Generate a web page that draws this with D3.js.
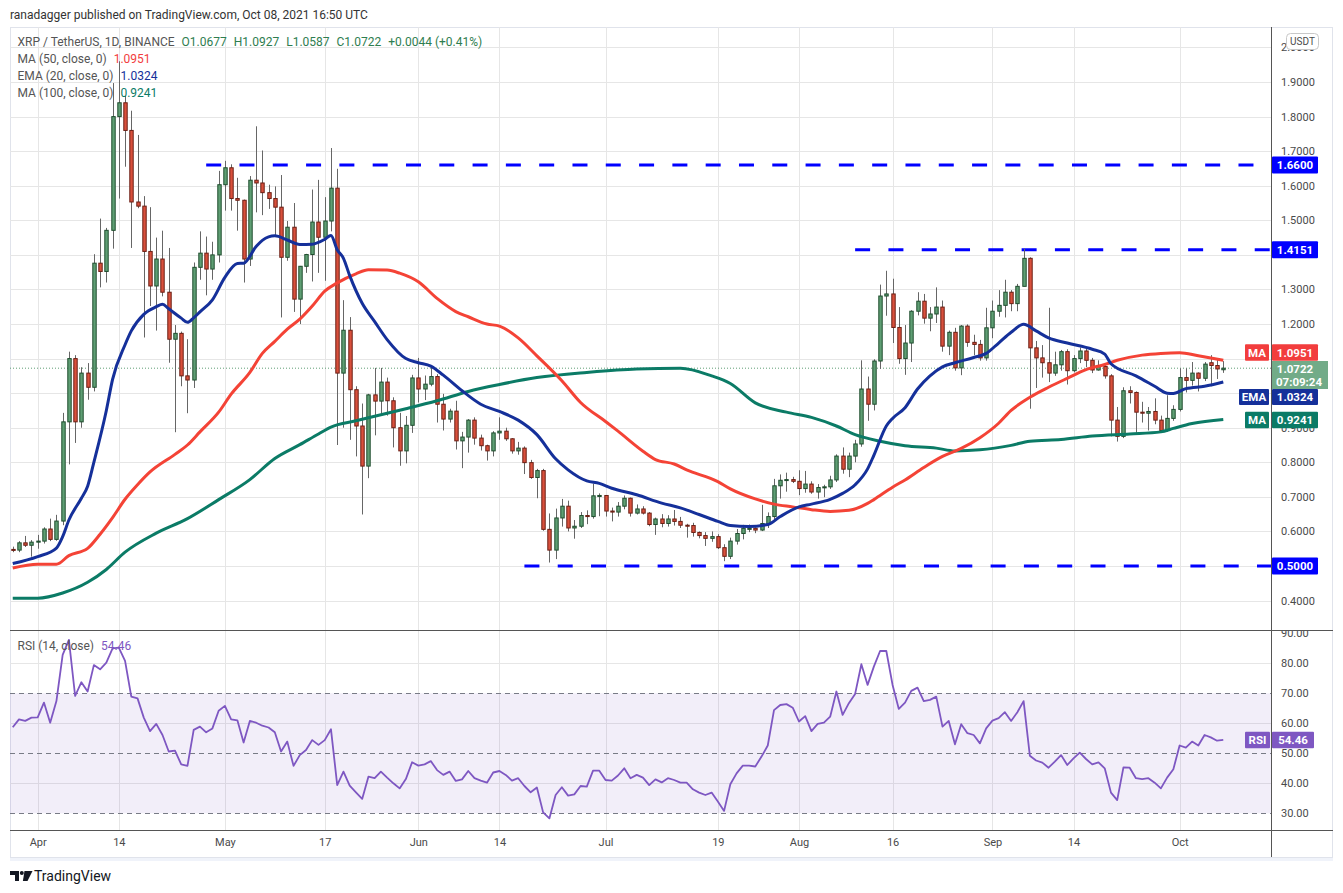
<!DOCTYPE html>
<html>
<head>
<meta charset="utf-8">
<style>
body { margin: 0; background: #fff; }
svg { display: block; font-family: Roboto, "Liberation Sans", sans-serif; }
</style>
</head>
<body>
<svg width="1343" height="893"></svg>
<script src="https://cdnjs.cloudflare.com/ajax/libs/d3/7.8.5/d3.min.js"></script>
<script>

// XRP / USDT daily candles, Mar 28 - Oct 8 2021
var startDay = "03-28";

var opens = [0.548,0.546,0.567,0.560,0.569,0.572,0.607,0.577,0.630,0.917,
1.100,0.917,1.058,1.017,1.376,1.352,1.471,1.800,1.840,1.760,
1.553,1.541,1.410,1.310,1.388,1.292,1.156,1.173,1.050,1.038,
1.364,1.405,1.359,1.400,1.603,1.652,1.563,1.558,1.388,1.616,
1.608,1.580,1.563,1.538,1.393,1.480,1.272,1.367,1.401,1.495,
1.451,1.498,1.593,1.058,1.182,1.010,0.905,0.789,0.995,0.977,
1.032,0.978,0.900,0.833,0.907,1.044,1.012,1.026,1.048,0.968,
0.925,0.948,0.862,0.873,0.922,0.870,0.848,0.833,0.885,0.890,
0.868,0.833,0.841,0.799,0.756,0.776,0.606,0.546,0.639,0.673,
0.610,0.615,0.646,0.643,0.703,0.704,0.659,0.656,0.673,0.696,
0.653,0.665,0.653,0.620,0.636,0.623,0.636,0.629,0.618,0.617,
0.597,0.588,0.580,0.585,0.553,0.528,0.572,0.594,0.606,0.609,
0.604,0.623,0.643,0.732,0.748,0.750,0.745,0.724,0.737,0.714,
0.727,0.729,0.749,0.818,0.780,0.818,0.853,1.012,0.968,1.093,
1.281,1.287,1.190,1.100,1.145,1.237,1.266,1.217,1.229,1.249,
1.136,1.176,1.073,1.194,1.147,1.141,1.102,1.189,1.237,1.254,
1.292,1.259,1.309,1.390,1.131,1.102,1.088,1.058,1.082,1.120,
1.065,1.100,1.122,1.095,1.067,1.077,1.050,0.922,0.875,1.007,
1.002,0.945,0.942,0.947,0.922,0.892,0.927,0.953,1.045,1.037,
1.058,1.043,1.088,1.080,1.0677];

var highs = [0.556,0.572,0.587,0.575,0.590,0.612,0.637,0.648,0.943,1.120,
1.110,1.075,1.087,1.402,1.505,1.478,1.897,1.960,1.860,1.817,
1.747,1.570,1.538,1.450,1.470,1.420,1.197,1.178,1.156,1.378,
1.468,1.453,1.438,1.643,1.672,1.662,1.623,1.560,1.628,1.772,
1.702,1.603,1.598,1.631,1.498,1.550,1.368,1.403,1.589,1.617,
1.567,1.709,1.649,1.269,1.220,1.020,0.970,0.998,1.073,1.073,
1.045,0.988,0.943,0.934,1.053,1.102,1.051,1.080,1.055,0.998,
0.955,0.978,0.888,0.925,0.930,0.880,0.851,0.890,0.930,0.900,
0.870,0.859,0.846,0.807,0.781,0.781,0.652,0.666,0.694,0.689,
0.633,0.656,0.661,0.738,0.710,0.705,0.669,0.685,0.704,0.698,
0.678,0.673,0.656,0.640,0.650,0.647,0.662,0.642,0.622,0.625,
0.600,0.598,0.600,0.592,0.563,0.582,0.607,0.619,0.620,0.612,
0.677,0.655,0.752,0.765,0.770,0.758,0.777,0.775,0.745,0.737,
0.735,0.761,0.823,0.843,0.828,0.865,1.095,1.048,1.098,1.314,
1.354,1.331,1.249,1.197,1.240,1.292,1.287,1.249,1.306,1.268,
1.181,1.189,1.197,1.199,1.169,1.154,1.247,1.268,1.298,1.328,
1.298,1.316,1.418,1.393,1.151,1.139,1.247,1.120,1.125,1.127,
1.110,1.132,1.130,1.102,1.095,1.082,1.055,0.960,1.017,1.020,
1.005,0.975,0.960,0.985,0.935,0.994,0.965,1.072,1.072,1.090,
1.060,1.090,1.110,1.097,1.0927];

var lows = [0.540,0.540,0.555,0.527,0.550,0.565,0.572,0.573,0.618,0.794,
0.856,0.900,0.981,1.005,1.306,1.320,1.418,1.563,1.655,1.420,
1.535,1.161,1.252,1.181,1.280,1.088,0.887,1.020,0.942,1.015,
1.328,1.283,1.328,1.378,1.528,1.528,1.470,1.320,1.368,1.523,
1.515,1.533,1.453,1.219,1.383,1.235,1.200,1.348,1.323,1.348,
1.325,1.468,0.850,0.900,0.865,0.817,0.649,0.754,0.878,0.938,
0.935,0.843,0.790,0.797,0.885,0.973,0.980,1.020,0.915,0.892,
0.915,0.837,0.783,0.828,0.851,0.834,0.805,0.817,0.865,0.862,
0.825,0.822,0.766,0.752,0.696,0.602,0.510,0.520,0.614,0.600,
0.579,0.610,0.621,0.637,0.644,0.643,0.629,0.643,0.664,0.643,
0.649,0.649,0.615,0.590,0.612,0.614,0.617,0.610,0.582,0.585,
0.580,0.558,0.570,0.549,0.514,0.520,0.562,0.577,0.598,0.595,
0.601,0.610,0.630,0.695,0.715,0.740,0.705,0.712,0.709,0.695,
0.699,0.723,0.743,0.767,0.757,0.800,0.845,0.920,0.950,1.070,
1.224,1.145,1.085,1.053,1.090,1.225,1.201,1.179,1.203,1.120,
1.110,1.065,1.052,1.134,1.110,1.094,1.094,1.159,1.221,1.219,
1.237,1.237,1.309,0.955,1.015,1.045,1.032,1.050,1.065,1.025,
1.060,1.087,1.075,1.058,1.065,1.042,0.875,0.860,0.870,0.970,
0.885,0.915,0.892,0.910,0.890,0.888,0.920,0.947,1.002,1.022,
1.005,1.035,1.020,1.041,1.0587];

var closes = [0.546,0.567,0.560,0.569,0.572,0.607,0.577,0.630,0.917,1.100,
0.917,1.058,1.017,1.376,1.352,1.471,1.800,1.840,1.760,1.553,
1.541,1.410,1.310,1.388,1.292,1.156,1.173,1.050,1.038,1.364,
1.405,1.359,1.400,1.603,1.652,1.563,1.558,1.388,1.616,1.608,
1.580,1.563,1.538,1.393,1.480,1.272,1.367,1.401,1.495,1.451,
1.498,1.593,1.058,1.182,1.010,0.905,0.789,0.995,0.977,1.032,
0.978,0.900,0.833,0.907,1.044,1.012,1.026,1.048,0.968,0.925,
0.948,0.862,0.873,0.922,0.870,0.848,0.833,0.885,0.890,0.868,
0.833,0.841,0.799,0.756,0.776,0.606,0.546,0.639,0.673,0.610,
0.615,0.646,0.643,0.703,0.704,0.659,0.656,0.673,0.696,0.653,
0.665,0.653,0.620,0.636,0.623,0.636,0.629,0.618,0.617,0.597,
0.588,0.580,0.585,0.553,0.528,0.572,0.594,0.609,0.609,0.604,
0.623,0.643,0.732,0.748,0.750,0.745,0.724,0.737,0.714,0.727,
0.729,0.749,0.818,0.780,0.818,0.853,1.012,0.968,1.093,1.281,
1.287,1.190,1.100,1.145,1.237,1.266,1.217,1.229,1.249,1.136,
1.176,1.073,1.194,1.147,1.141,1.102,1.189,1.237,1.254,1.292,
1.259,1.309,1.390,1.131,1.102,1.088,1.058,1.082,1.120,1.065,
1.100,1.122,1.095,1.067,1.077,1.050,0.922,0.875,1.007,1.002,
0.945,0.942,0.947,0.922,0.892,0.927,0.953,1.045,1.037,1.058,
1.043,1.084,1.080,1.070,1.0722];

var rsi14 = [58.7,61.3,60.8,61.9,62,66.9,60.2,67.4,82.8,87.8,
69.1,73.7,70.6,79.4,78,80.2,85,85.2,80.8,68.9,
68.3,61.9,57.4,59.8,56.1,50.6,50.9,46.3,45.8,57.8,
58.9,57,58.3,64.2,65.8,61.3,61,53.6,60.8,60.2,
59.2,58.6,57,50.6,53.9,45.8,49.4,51.1,54.4,52.8,
54.4,58,39.4,43.9,39.2,37,34.8,42.2,41.7,43.9,
41.9,40,38.3,41.4,47,45.9,46.3,47.4,44.4,42.8,
43.9,40.8,41.3,44.1,41.7,40.9,40.2,43.6,44.1,42.8,
40.9,41.7,39.1,37,38.6,30.3,28.3,36.1,38.7,35.9,
36.3,39.1,38.9,44.2,44.2,41.1,40.9,42.6,45,41.7,
42.8,41.9,39.4,41.3,40.3,41.7,41.1,40.2,40.2,38,
36.9,36.1,36.9,33.9,30.8,39.7,43.3,45.9,45.9,45.6,
48.9,52.6,64.4,66.1,66.4,65.2,60.6,62.4,57.4,59.8,
60.2,62.2,70.6,62.8,66.7,69.8,79.7,72.8,78.9,84.1,
84.1,72.8,64.8,66.9,70.8,71.9,67.4,67.8,68.9,58.9,
60.8,53,59.7,56.7,56.1,53.3,58.3,60.9,61.7,63.7,
60.8,63.7,67.4,49.2,47.6,46.9,45.2,47.2,49.4,46.1,
48.3,50.2,48.1,46.3,47,45,36.9,34.4,45.3,45.2,
41.7,41.4,41.7,40.2,38.3,41.9,44.7,52.6,51.9,53.9,
52.6,56.1,55.3,54.2,54.46];

// moving averages at sample dates
var ema20 = [["03-28",0.507],["04-01",0.527],["04-04",0.552],["04-05",0.585],["04-06",0.633],
["04-08",0.696],["04-09",0.731],["04-10",0.80],["04-12",0.95],["04-13",1.04],["04-15",1.14],
["04-16",1.18],["04-18",1.228],["04-20",1.25],["04-21",1.257],["04-22",1.244],["04-24",1.217],
["04-25",1.205],["04-26",1.218],["04-27",1.235],["04-29",1.27],["05-01",1.335],["05-03",1.375],
["05-04",1.376],["05-06",1.424],["05-07",1.442],["05-09",1.455],["05-11",1.443],["05-13",1.43],
["05-15",1.431],["05-17",1.445],["05-18",1.456],["05-19",1.415],["05-20",1.39],["05-21",1.34],
["05-23",1.26],["05-25",1.207],["05-27",1.155],["05-30",1.10],["06-01",1.088],["06-03",1.078],
["06-05",1.052],["06-08",1.007],["06-11",0.968],["06-14",0.947],["06-17",0.922],["06-20",0.88],
["06-23",0.81],["06-25",0.778],["06-28",0.746],["06-30",0.739],["07-02",0.725],["07-06",0.706],
["07-10",0.682],["07-13",0.668],["07-16",0.649],["07-19",0.629],["07-21",0.617],["07-24",0.614],
["07-27",0.62],["07-29",0.643],["08-01",0.671],["08-03",0.679],["08-06",0.693],["08-08",0.71],
["08-10",0.735],["08-12",0.781],["08-13",0.82],["08-15",0.905],["08-16",0.927],["08-18",0.958],
["08-20",1.012],["08-22",1.05],["08-24",1.076],["08-26",1.088],["08-29",1.103],["08-31",1.115],
["09-02",1.145],["09-04",1.176],["09-06",1.199],["09-08",1.18],["09-10",1.16],["09-13",1.145],
["09-17",1.127],["09-19",1.113],["09-20",1.085],["09-24",1.05],["09-27",1.02],["09-29",1.0],
["09-30",0.999],["10-02",1.013],["10-05",1.02],["10-08",1.0324]];

var ma50 = [["03-28",0.494],["04-01",0.505],["04-04",0.505],["04-06",0.53],["04-09",0.551],
["04-11",0.592],["04-13",0.64],["04-15",0.693],["04-17",0.735],["04-19",0.772],["04-23",0.823],
["04-25",0.85],["04-27",0.888],["04-30",0.945],["05-02",0.997],["05-05",1.06],["05-07",1.115],
["05-09",1.15],["05-11",1.185],["05-13",1.214],["05-15",1.252],["05-17",1.295],["05-19",1.319],
["05-22",1.345],["05-24",1.357],["05-27",1.356],["05-29",1.347],["06-01",1.322],["06-04",1.274],
["06-07",1.236],["06-09",1.221],["06-12",1.2],["06-14",1.194],["06-17",1.16],["06-20",1.108],
["06-24",1.036],["06-27",0.973],["07-01",0.918],["07-03",0.89],["07-07",0.832],["07-09",0.808],
["07-12",0.795],["07-14",0.778],["07-19",0.744],["07-21",0.723],["07-25",0.694],["07-28",0.679],
["07-31",0.671],["08-03",0.663],["08-06",0.658],["08-09",0.661],["08-12",0.681],["08-13",0.692],
["08-16",0.728],["08-18",0.749],["08-21",0.785],["08-24",0.817],["08-27",0.84],["08-30",0.871],
["09-02",0.913],["09-04",0.95],["09-07",0.988],["09-10",1.017],["09-13",1.043],["09-16",1.068],
["09-19",1.083],["09-21",1.095],["09-25",1.11],["09-28",1.115],["10-01",1.117],["10-04",1.108],
["10-08",1.0951]];

var ma100 = [["03-28",0.407],["04-01",0.407],["04-05",0.422],["04-09",0.453],["04-12",0.49],
["04-15",0.54],["04-20",0.595],["04-25",0.637],["04-30",0.692],["05-05",0.75],["05-09",0.811],
["05-13",0.851],["05-16",0.882],["05-18",0.902],["05-22",0.92],["05-27",0.942],["05-30",0.955],
["06-04",0.978],["06-09",1.005],["06-14",1.025],["06-20",1.045],["06-28",1.06],["07-06",1.07],
["07-13",1.072],["07-18",1.05],["07-21",1.028],["07-25",0.972],["07-30",0.945],["08-03",0.93],
["08-07",0.905],["08-10",0.88],["08-14",0.861],["08-18",0.848],["08-23",0.841],["08-26",0.833],
["08-30",0.836],["09-04",0.849],["09-07",0.861],["09-12",0.866],["09-17",0.876],["09-23",0.882],
["09-28",0.888],["09-30",0.898],["10-03",0.912],["10-08",0.9241]];

// horizontal support / resistance lines and where they start
var levelValues = [1.66, 1.4151, 0.5];
var levelStarts = ["04-28", "08-10", "06-18"];

var dateTicks = ["04-01","04-14","05-01","05-17","06-01","06-14","07-01","07-19","08-01","08-16","09-01","09-14","10-01"];
var dateLabels = ["Apr","14","May","17","Jun","14","Jul","19","Aug","16","Sep","14","Oct"];
var priceTicks = [0.4,0.5,0.6,0.7,0.8,0.9,1.0,1.1,1.2,1.3,1.4,1.5,1.6,1.7,1.8,1.9,2.0];
// labels that sit under a value tag on the right axis are not shown
var hiddenPriceLabels = [0.5,1.0,1.1,1.4];
var rsiTicks = [30,40,50,60,70,80,90];

var lastPrice = 1.0722;

var upFill = "#5f9e74", upLine = "#1f4d2e",
    downFill = "#d9503c", downLine = "#6b1f14";

var svg = d3.select("svg");

var plotL = 10, plotR = 1271, frameR = 1332,
    plotT = 27, split = 630, rsiB = 830, frameB = 857;

var parse = d3.utcParse("%Y-%m-%d");
function md(s) { return parse("2021-" + s); }

var days = d3.utcDay.range(md(startDay), d3.utcDay.offset(md(startDay), closes.length));

var x = d3.scaleUtc()
    .domain([md("04-01"), md("10-01")])
    .range([37.7, 1179.6]);

var y = d3.scaleLinear()
    .domain([0.5, 1.66])
    .range([566, 165]);

var yr = d3.scaleLinear()
    .domain([30, 70])
    .range([813.3, 693.3]);

var defs = svg.append("defs");
defs.append("clipPath").attr("id", "mainClip")
  .append("rect").attr("x", plotL).attr("y", plotT).attr("width", plotR - plotL).attr("height", split - plotT);
defs.append("clipPath").attr("id", "rsiClip")
  .append("rect").attr("x", plotL).attr("y", split).attr("width", plotR - plotL).attr("height", rsiB - split);
defs.append("clipPath").attr("id", "rsiAxisClip")
  .append("rect").attr("x", plotR).attr("y", split + 1).attr("width", frameR - plotR).attr("height", rsiB - split);

// header
svg.append("text")
    .attr("x", 10).attr("y", 15).attr("dy", "0.35em")
    .attr("font-size", 12).attr("fill", "#333")
    .text("ranadagger published on TradingView.com, Oct 08, 2021 16:50 UTC");

// frame
svg.append("rect")
    .attr("x", plotL + 0.5).attr("y", plotT + 0.5)
    .attr("width", frameR - plotL).attr("height", frameB - plotT)
    .attr("fill", "none").attr("stroke", "#e0e3eb");
svg.append("rect")
    .attr("x", plotL).attr("y", frameB + 1).attr("width", frameR - plotL + 1).attr("height", 3)
    .attr("fill", "#f0f3fa");

// grid
var grid = svg.append("g").attr("stroke", "#e6e6e6").attr("shape-rendering", "crispEdges");
grid.selectAll("line.v").data(dateTicks).enter().append("line")
    .attr("x1", function(d) { return Math.round(x(md(d))) + 0.5; })
    .attr("x2", function(d) { return Math.round(x(md(d))) + 0.5; })
    .attr("y1", plotT).attr("y2", rsiB);
grid.selectAll("line.h").data(priceTicks).enter().append("line")
    .attr("x1", plotL).attr("x2", plotR)
    .attr("y1", function(d) { return Math.round(y(d)) + 0.5; })
    .attr("y2", function(d) { return Math.round(y(d)) + 0.5; });
grid.selectAll("line.r").data([40, 60, 80]).enter().append("line")
    .attr("x1", plotL).attr("x2", plotR)
    .attr("y1", function(d) { return Math.round(yr(d)) + 0.5; })
    .attr("y2", function(d) { return Math.round(yr(d)) + 0.5; });

// RSI band and dashed guides
svg.append("rect")
    .attr("x", plotL).attr("width", plotR - plotL)
    .attr("y", yr(70)).attr("height", yr(30) - yr(70))
    .attr("fill", "#7e57c2").attr("fill-opacity", 0.1);
svg.append("g").selectAll("line").data([70, 50, 30]).enter().append("line")
    .attr("x1", plotL).attr("x2", plotR)
    .attr("y1", function(d) { return Math.round(yr(d)) + 0.5; })
    .attr("y2", function(d) { return Math.round(yr(d)) + 0.5; })
    .attr("stroke", "#787b86").attr("stroke-dasharray", "5,4");

// main pane
var main = svg.append("g").attr("clip-path", "url(#mainClip)");

main.append("line")
    .attr("x1", plotL).attr("x2", plotR)
    .attr("y1", y(lastPrice)).attr("y2", y(lastPrice))
    .attr("stroke", upFill).attr("stroke-dasharray", "1,2");

main.selectAll("line.lvl").data(levelValues).enter().append("line")
    .attr("x1", function(d, i) { return x(md(levelStarts[i])); })
    .attr("x2", plotR)
    .attr("y1", function(d) { return y(d); })
    .attr("y2", function(d) { return y(d); })
    .attr("stroke", "#0000ff").attr("stroke-width", 3)
    .attr("stroke-dasharray", "15,18.3");

var idx = d3.range(closes.length);
var bw = 4.4;

var candles = main.append("g");
candles.selectAll("line.wick").data(idx).enter().append("line")
    .attr("x1", function(i) { return Math.round(x(days[i])) + 0.5; })
    .attr("x2", function(i) { return Math.round(x(days[i])) + 0.5; })
    .attr("y1", function(i) { return y(highs[i]); })
    .attr("y2", function(i) { return y(lows[i]); })
    .attr("stroke", "#666");
candles.selectAll("rect").data(idx).enter().append("rect")
    .attr("x", function(i) { return Math.round(x(days[i])) + 0.5 - bw / 2 + 0.5; })
    .attr("width", bw - 1)
    .attr("y", function(i) { return y(Math.max(opens[i], closes[i])); })
    .attr("height", function(i) { return Math.max(1, Math.abs(y(opens[i]) - y(closes[i]))); })
    .attr("fill", function(i) { return closes[i] >= opens[i] ? upFill : downFill; })
    .attr("stroke", function(i) { return closes[i] >= opens[i] ? upLine : downLine; })
    .attr("stroke-width", 1);

var maLine = d3.line()
    .x(function(d) { return x(md(d[0])); })
    .y(function(d) { return y(d[1]); })
    .curve(d3.curveMonotoneX);

main.append("path").datum(ma100).attr("d", maLine)
    .attr("fill", "none").attr("stroke", "#0b7b66").attr("stroke-width", 3);
main.append("path").datum(ma50).attr("d", maLine)
    .attr("fill", "none").attr("stroke", "#f44336").attr("stroke-width", 3);
main.append("path").datum(ema20).attr("d", maLine)
    .attr("fill", "none").attr("stroke", "#15309a").attr("stroke-width", 3);

// RSI pane
var rsiLine = d3.line()
    .x(function(d, i) { return x(days[i]); })
    .y(function(d) { return yr(d); });
svg.append("g").attr("clip-path", "url(#rsiClip)")
  .append("path").datum(rsi14).attr("d", rsiLine)
    .attr("fill", "none").attr("stroke", "#7e57c2").attr("stroke-width", 1.8)
    .attr("stroke-linejoin", "round");

// pane borders
var border = svg.append("g").attr("stroke", "#555").attr("shape-rendering", "crispEdges");
border.append("line").attr("x1", plotL).attr("x2", frameR + 1).attr("y1", split + 0.5).attr("y2", split + 0.5);
border.append("line").attr("x1", plotL).attr("x2", frameR + 1).attr("y1", rsiB + 0.5).attr("y2", rsiB + 0.5);
border.append("line").attr("x1", plotR + 0.5).attr("x2", plotR + 0.5).attr("y1", plotT).attr("y2", frameB);

// axes
function styleAxis(g) {
    g.select(".domain").remove();
    g.selectAll(".tick line").remove();
    g.selectAll(".tick text")
        .attr("font-family", "Roboto, 'Liberation Sans', sans-serif")
        .attr("font-size", 11).attr("fill", "#4a4a4a");
}

var priceAxis = svg.append("g")
    .attr("transform", "translate(" + plotR + ",0)")
    .call(d3.axisRight(y).tickValues(priceTicks).tickFormat(d3.format(".4f")).tickSize(0).tickPadding(10))
    .call(styleAxis);
priceAxis.selectAll(".tick text").attr("text-anchor", "start");
priceAxis.selectAll(".tick")
    .filter(function(d) { return hiddenPriceLabels.indexOf(d) >= 0; })
    .remove();

svg.append("g")
    .attr("clip-path", "url(#rsiAxisClip)")
  .append("g")
    .attr("transform", "translate(" + plotR + ",0)")
    .call(d3.axisRight(yr).tickValues(rsiTicks).tickFormat(d3.format(".2f")).tickSize(0).tickPadding(10))
    .call(styleAxis);

svg.append("g")
    .attr("transform", "translate(0," + rsiB + ")")
    .call(d3.axisBottom(x).tickValues(dateTicks.map(md))
        .tickFormat(function(d, i) { return dateLabels[i]; })
        .tickSize(0).tickPadding(8))
    .call(styleAxis);

// currency tag
svg.append("rect").attr("x", 1286.5).attr("y", 33.5).attr("width", 32).attr("height", 16).attr("rx", 4)
    .attr("fill", "#fff").attr("stroke", "#c8c8c8");
svg.append("text").attr("x", 1302.5).attr("y", 41.5).attr("dy", "0.35em")
    .attr("text-anchor", "middle").attr("font-size", 10).attr("fill", "#4a4a4a").text("USDT");

// right side value tags
var tags = svg.append("g").attr("font-size", 11.5).attr("font-weight", "bold").attr("fill", "#fff");
function tag(x0, w, cy, h, fill, txt) {
    tags.append("rect").attr("x", x0).attr("y", cy - h / 2).attr("width", w).attr("height", h)
        .attr("fill", fill).attr("rx", 1);
    tags.append("text").attr("x", x0 + w / 2).attr("y", cy).attr("dy", "0.35em")
        .attr("text-anchor", "middle").attr("fill", "#fff").text(txt);
}
levelValues.forEach(function(v) {
    tag(plotR + 1, 46, y(v), 17, "#0000ff", d3.format(".4f")(v));
});
tag(1245, 24, 352.5, 16.5, "#f23d3d", "MA");
tag(plotR + 1, 46, 352.5, 16.5, "#f23d3d", "1.0951");
tags.append("rect").attr("x", plotR + 1).attr("y", 361).attr("width", 56).attr("height", 28)
    .attr("fill", "#72ab88");
tags.append("text").attr("x", plotR + 24).attr("y", 368.5).attr("dy", "0.35em")
    .attr("text-anchor", "middle").text(d3.format(".4f")(lastPrice));
tags.append("text").attr("x", plotR + 28).attr("y", 382).attr("dy", "0.35em")
    .attr("text-anchor", "middle").text("07:09:24");
tag(1239, 30, 397, 16, "#15309a", "EMA");
tag(plotR + 1, 46, 397, 16, "#15309a", "1.0324");
tag(1245, 24, 420, 16.5, "#0b7b66", "MA");
tag(plotR + 1, 46, 420, 16.5, "#0b7b66", "0.9241");
tag(1245, 25, yr(54.46), 16.5, "#7e57c2", "RSI");
tag(plotR + 1, 42, yr(54.46), 16.5, "#7e57c2", "54.46");

// legends
var grey = "#555", green = "#2e7d4f";
var legend = svg.append("g").attr("font-size", 12);
function legendRow(yy, parts) {
    var t = legend.append("text").attr("x", 17.5).attr("y", yy).attr("dy", "0.35em");
    parts.forEach(function(p, i) {
        t.append("tspan").attr("dx", i ? p[2] : 0).attr("fill", p[1]).text(p[0]);
    });
}
legendRow(41.7, [["XRP / TetherUS, 1D, BINANCE", grey], ["O1.0677", green, 7], ["H1.0927", green, 7],
    ["L1.0587", green, 7], ["C1.0722", green, 7], ["+0.0044 (+0.41%)", green, 7]]);
legendRow(59, [["MA (50, close, 0)", grey], ["1.0951", "#f23d3d", 7]]);
legendRow(76, [["EMA (20, close, 0)", grey], ["1.0324", "#15309a", 7]]);
legendRow(92.7, [["MA (100, close, 0)", grey], ["0.9241", "#0b7b66", 7]]);
legendRow(646, [["RSI (14, close)", grey], ["54.46", "#7e57c2", 7]]);

// TradingView mark
var logo = svg.append("g").attr("fill", "#131722");
logo.append("path").attr("d", "M10,871h9v10h-4v-6h-5z");
logo.append("circle").attr("cx", 21.8).attr("cy", 873).attr("r", 2);
logo.append("path").attr("d", "M24.5,871h8l-5,10h-4.6z");
logo.append("text").attr("x", 34).attr("y", 876).attr("dy", "0.35em")
    .attr("font-size", 14).text("TradingView");

</script>
</body>
</html>
